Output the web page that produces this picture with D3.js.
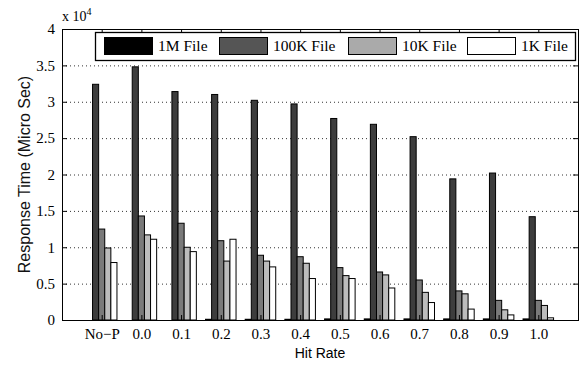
<!DOCTYPE html>
<html>
<head>
<meta charset="utf-8">
<script src="https://cdn.jsdelivr.net/npm/d3@7"></script>
<style>
  body { margin: 0; background: #fff; }
  svg { display: block; }
</style>
</head>
<body>
<div id="chart"></div>
<script>
// chart size and plot box
const WIDTH = 587;
const HEIGHT = 365;
const PLOT = { left: 62, right: 578, top: 29, bottom: 320 };

// categories on the x axis
const categories = ["No\u2212P", "0.0", "0.1", "0.2", "0.3", "0.4", "0.5", "0.6", "0.7", "0.8", "0.9", "1.0"];

// bar series (values in units of 10^4 micro sec), left to right in a group
const seriesA = [0, 0, 0, 0.01, 0.01, 0.01, 0.015, 0.015, 0.015, 0.015, 0.015, 0.015];
const seriesB = [3.24, 3.48, 3.14, 3.10, 3.02, 2.97, 2.77, 2.69, 2.52, 1.94, 2.02, 1.42];
const seriesC = [1.25, 1.43, 1.33, 1.09, 0.89, 0.87, 0.72, 0.66, 0.55, 0.40, 0.27, 0.27];
const seriesD = [0.99, 1.17, 1.00, 0.81, 0.81, 0.78, 0.61, 0.62, 0.38, 0.36, 0.14, 0.20];
const seriesE = [0.79, 1.11, 0.94, 1.11, 0.73, 0.57, 0.57, 0.44, 0.24, 0.15, 0.07, 0.03];
const barSeries = [seriesA, seriesB, seriesC, seriesD, seriesE];
const barColors = ["#000000", "#3d3d3d", "#7a7a7a", "#bcbcbc", "#ffffff"];

// legend entries
const legendNames = ["1M File", "100K File", "10K File", "1K File"];
const legendColors = ["#000000", "#555555", "#aaaaaa", "#ffffff"];

// y ticks
const yTicks = [0, 0.5, 1, 1.5, 2, 2.5, 3, 3.5, 4];
const yTickLabels = ["0", "0.5", "1", "1.5", "2", "2.5", "3", "3.5", "4"];

const SERIF = "'Liberation Serif', 'Times New Roman', serif";
const SANS = "'Liberation Sans', Arial, sans-serif";

const svg = d3.select("#chart").append("svg")
  .attr("width", WIDTH)
  .attr("height", HEIGHT);

const xScale = d3.scaleLinear().domain([0, categories.length + 1]).range([PLOT.left, PLOT.right]);
const yScale = d3.scaleLinear().domain([0, 4]).range([PLOT.bottom, PLOT.top]);

// matlab style grouped bars: group is 5/6.5 of a unit wide
const unit = xScale(1) - xScale(0);
const groupWidth = unit * barSeries.length / (barSeries.length + 1.5);
const sub = d3.scaleBand()
  .domain(d3.range(barSeries.length))
  .range([-groupWidth / 2, groupWidth / 2]);

// dotted grid
svg.append("g")
  .selectAll("line")
  .data(yTicks.slice(1, -1))
  .enter().append("line")
  .attr("x1", PLOT.left)
  .attr("x2", PLOT.right)
  .attr("y1", d => yScale(d) + 0.5)
  .attr("y2", d => yScale(d) + 0.5)
  .attr("stroke", "#333")
  .attr("stroke-width", 1)
  .attr("stroke-dasharray", "1,3");

// bars
const bars = svg.append("g");
barSeries.forEach((vals, s) => {
  bars.selectAll(".bar-" + s)
    .data(vals)
    .enter().append("rect")
    .attr("class", "bar-" + s)
    .attr("x", (d, i) => xScale(i + 1) + sub(s))
    .attr("y", d => yScale(d))
    .attr("width", sub.bandwidth())
    .attr("height", d => yScale(0) - yScale(d))
    .attr("fill", barColors[s])
    .attr("stroke", "#000")
    .attr("stroke-width", 1);
});

// axes with inward ticks
const xAxis = d3.axisBottom(xScale)
  .tickValues(d3.range(1, categories.length + 1))
  .tickFormat(d => categories[d - 1])
  .tickSizeInner(-5).tickSizeOuter(0).tickPadding(8);
const xTop = d3.axisTop(xScale)
  .tickValues(d3.range(1, categories.length + 1))
  .tickFormat("")
  .tickSizeInner(-5).tickSizeOuter(0);
const yAxis = d3.axisLeft(yScale)
  .tickValues(yTicks)
  .tickFormat((d, i) => yTickLabels[i])
  .tickSizeInner(-5).tickSizeOuter(0).tickPadding(7);
const yRight = d3.axisRight(yScale)
  .tickValues(yTicks)
  .tickFormat("")
  .tickSizeInner(-5).tickSizeOuter(0);

svg.append("g").attr("transform", "translate(0," + PLOT.bottom + ")").call(xAxis);
svg.append("g").attr("transform", "translate(0," + PLOT.top + ")").call(xTop);
svg.append("g").attr("transform", "translate(" + PLOT.left + ",0)").call(yAxis);
svg.append("g").attr("transform", "translate(" + PLOT.right + ",0)").call(yRight);

svg.selectAll(".domain").remove();
svg.selectAll(".tick line").attr("stroke", "#000");
svg.selectAll(".tick text")
  .attr("font-family", SERIF)
  .attr("font-size", 15)
  .attr("fill", "#000");

// plot frame
svg.append("rect")
  .attr("x", PLOT.left + 0.5)
  .attr("y", PLOT.top + 0.5)
  .attr("width", PLOT.right - PLOT.left)
  .attr("height", PLOT.bottom - PLOT.top)
  .attr("fill", "none")
  .attr("stroke", "#000")
  .attr("stroke-width", 1);

// exponent label
const expo = svg.append("text")
  .attr("x", PLOT.left)
  .attr("y", 21)
  .attr("font-family", SERIF)
  .attr("font-size", 14);
expo.append("tspan").text("x 10");
expo.append("tspan").attr("dy", -6).attr("font-size", 10).text("4");

// axis titles
svg.append("text")
  .attr("transform", "translate(30," + ((PLOT.top + PLOT.bottom) / 2) + ") rotate(-90)")
  .attr("text-anchor", "middle")
  .attr("font-family", SANS)
  .attr("font-size", 16)
  .attr("fill", "#111")
  .text("Response Time (Micro Sec)");

svg.append("text")
  .attr("x", (PLOT.left + PLOT.right) / 2)
  .attr("y", 358)
  .attr("text-anchor", "middle")
  .attr("font-family", SANS)
  .attr("font-size", 14)
  .text("Hit Rate");

// legend
const legend = svg.append("g");
legend.append("rect")
  .attr("x", 95.5).attr("y", 32.5)
  .attr("width", 480).attr("height", 28)
  .attr("fill", "#fff").attr("stroke", "#000").attr("stroke-width", 1.3);

const legendX = [104, 219, 348, 467];
legendNames.forEach((name, i) => {
  legend.append("rect")
    .attr("x", legendX[i] + 0.5).attr("y", 37.5)
    .attr("width", 48).attr("height", 17)
    .attr("fill", legendColors[i])
    .attr("stroke", "#000").attr("stroke-width", 1);
  legend.append("text")
    .attr("x", legendX[i] + 54)
    .attr("y", 51)
    .attr("font-family", SERIF)
    .attr("font-size", 15.5)
    .text(name);
});
</script>
</body>
</html>
